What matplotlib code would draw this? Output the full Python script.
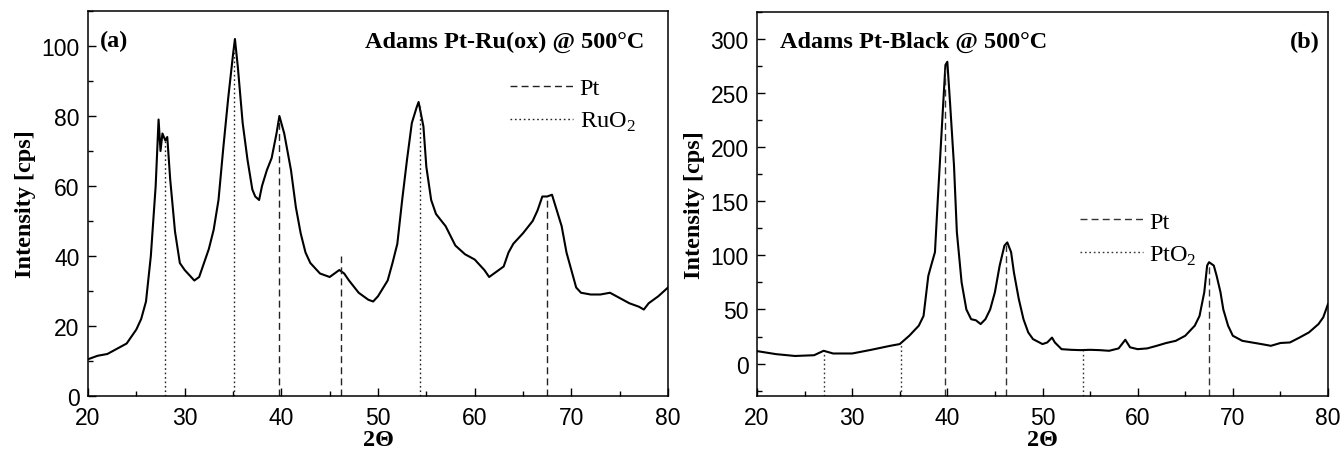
import matplotlib
matplotlib.use("Agg")
import matplotlib.pyplot as plt
from matplotlib.lines import Line2D
from matplotlib.ticker import MultipleLocator

# ---------------- data ----------------
# Panel (a): Adams Pt-Ru(ox) @ 500°C
a_x = [20, 21, 22, 23, 24, 25, 25.5, 26, 26.5, 27, 27.3, 27.5, 27.7, 28, 28.2, 28.5, 29, 29.5,
       30, 30.5, 31, 31.5, 32, 32.5, 33, 33.5, 34, 34.5, 35, 35.2, 35.5, 36, 36.5, 37, 37.3,
       37.7, 38, 38.5, 39, 39.5, 39.8, 40.3, 41, 41.5, 42, 42.5, 43, 44, 45, 46, 46.5, 47, 48,
       49, 49.5, 50, 51, 51.5, 52, 52.5, 53, 53.5, 54, 54.2, 54.7, 55, 55.5, 56, 57, 58, 59,
       60, 61, 61.5, 62, 63, 63.5, 64, 65, 66, 66.5, 67, 67.5, 68, 68.5, 69, 69.5, 70, 70.5,
       71, 72, 73, 74, 75, 76, 77, 77.5, 78, 79, 80]
a_y = [10.5, 11.5, 12, 13.5, 15, 19, 22, 27, 40, 60, 79, 70, 75, 73, 74, 62, 47, 38,
       36, 34.5, 33, 34, 38, 42, 47.5, 56, 71, 85, 97.5, 102, 94, 78, 67.5, 59, 57,
       56, 60, 64.5, 68, 75, 80, 75, 64.5, 54, 46.5, 41, 38, 35, 34, 36, 35, 33, 29.5,
       27.5, 27, 28.5, 33, 38, 43.5, 56, 67.5, 78, 82.5, 84, 77, 65.5, 56, 52, 48.5, 43, 40.5,
       39, 36, 34, 35, 37, 41, 43.5, 46.5, 50, 53, 57, 57, 57.5, 53, 48.5, 41, 36, 31,
       29.5, 29, 29, 29.5, 28, 26.5, 25.5, 24.7, 26.5, 28.5, 31]

a_pt_pos = [39.8, 46.2, 67.5]
a_pt_h = [79, 40, 57]
a_ruo2_pos = [28.0, 35.1, 54.3]
a_ruo2_h = [73, 100, 83]

# Panel (b): Adams Pt-Black @ 500°C
b_x = [20, 22, 24, 26, 27, 28, 30, 32, 34, 35, 36, 37, 37.5, 38, 38.3, 38.7, 39, 39.5, 39.8,
       40, 40.3, 40.7, 41, 41.5, 42, 42.5, 43, 43.5, 44, 44.5, 45, 45.5, 46, 46.3, 46.7, 47,
       47.5, 48, 48.5, 49, 50, 50.5, 51, 51.3, 52, 53, 54, 55, 56, 57, 58, 58.7, 59.2, 60, 61,
       62, 63, 64, 65, 66, 66.5, 67, 67.3, 67.5, 68, 68.3, 68.7, 69, 69.5, 70, 71, 72, 73, 74,
       75, 76, 77, 78, 79, 79.5, 80]
b_y = [11.5, 8.7, 7, 7.7, 11.8, 9.3, 9.3, 12.7, 16.4, 18, 25.7, 35, 44, 81, 90.6, 103, 152, 230, 276,
       279, 239, 183, 121.6, 75, 50, 41, 40, 36.5, 41, 50, 66, 90.6, 109, 112, 103, 84,
       60, 41, 28.8, 22.6, 18, 19.5, 24, 19.5, 13.3, 12.7, 12.4, 12.7, 12.4, 11.8, 14, 22, 15, 13.3, 14,
       16.4, 19, 21, 25.7, 35, 44, 66, 90.6, 93.7, 90.6, 81, 66, 50, 35, 25.7, 21, 19.5, 18, 16.4,
       19, 19.5, 24, 28.8, 36.5, 42.7, 55]

b_pt_pos = [39.8, 46.2, 67.5]
b_pt_h = [272, 110, 92]
b_pto2_pos = [27.0, 35.1, 54.3]
b_pto2_h = [10, 17, 12]

# ---------------- figure ----------------
plt.rcParams['font.family'] = ['Liberation Sans', 'DejaVu Sans']
serif = ['Liberation Serif', 'DejaVu Serif']
TXT = 17.5

fig = plt.figure(figsize=(13.42, 4.52), dpi=100)
ax1 = fig.add_axes([88 / 1342, 55 / 452, 580 / 1342, 385 / 452])
ax2 = fig.add_axes([757 / 1342, 55 / 452, 571 / 1342, 384 / 452])


def style(ax, ymaj, ymin):
    ax.set_xlim(20, 80)
    ax.xaxis.set_major_locator(MultipleLocator(10))
    ax.xaxis.set_minor_locator(MultipleLocator(5))
    ax.yaxis.set_major_locator(MultipleLocator(ymaj))
    ax.yaxis.set_minor_locator(MultipleLocator(ymin))
    ax.tick_params(which='both', direction='in', top=False, right=False, labelsize=16.5)
    ax.tick_params(which='major', length=6, width=1)
    ax.tick_params(which='minor', length=3.5, width=1)
    ax.tick_params(axis='x', pad=7)
    ax.tick_params(axis='y', pad=6)
    for s in ax.spines.values():
        s.set_linewidth(1.1)
    ax.set_xlabel('2Θ', fontsize=TXT, fontweight='bold', family=serif, labelpad=0)
    ax.set_ylabel('Intensity [cps]', fontsize=TXT, fontweight='bold', family=serif, labelpad=4)


LEG = dict(frameon=False, handlelength=2.6, handletextpad=0.25, labelspacing=0.45,
           borderaxespad=0, borderpad=0, prop={'family': serif, 'size': TXT})

# panel (a)
ax1.plot(a_x, a_y, color='black', lw=1.5)
ax1.vlines(a_pt_pos, 0, a_pt_h, colors='#222222', linestyles=(0, (5, 3)), lw=1.0)
ax1.vlines(a_ruo2_pos, 0, a_ruo2_h, colors='#222222', linestyles=(0, (1.2, 2)), lw=1.0)
ax1.set_ylim(0, 110)
style(ax1, 20, 10)
ax1.text(0.02, 0.95, '(a)', transform=ax1.transAxes, fontsize=TXT, fontweight='bold',
         family=serif, va='top', ha='left')
ax1.text(0.96, 0.95, 'Adams Pt-Ru(ox) @ 500°C', transform=ax1.transAxes, fontsize=TXT,
         fontweight='bold', family=serif, va='top', ha='right')
h1 = [Line2D([], [], color='#222222', ls=(0, (5, 3)), lw=1.0),
      Line2D([], [], color='#222222', ls=(0, (1.2, 2)), lw=1.0)]
ax1.legend(h1, ['Pt', r'RuO$_\mathregular{2}$'], loc='upper left',
           bbox_to_anchor=(0.728, 0.828), **LEG)

# panel (b)
ax2.plot(b_x, b_y, color='black', lw=1.5)
ax2.vlines(b_pt_pos, -30, b_pt_h, colors='#333333', linestyles=(0, (5, 3)), lw=1.0)
ax2.vlines(b_pto2_pos, -30, b_pto2_h, colors='#333333', linestyles=(0, (1.2, 2)), lw=1.0)
ax2.set_ylim(-30, 325)
style(ax2, 50, 25)
ax2.text(0.04, 0.95, 'Adams Pt-Black @ 500°C', transform=ax2.transAxes, fontsize=TXT,
         fontweight='bold', family=serif, va='top', ha='left')
ax2.text(0.985, 0.95, '(b)', transform=ax2.transAxes, fontsize=TXT, fontweight='bold',
         family=serif, va='top', ha='right')
h2 = [Line2D([], [], color='#333333', ls=(0, (5, 3)), lw=1.0),
      Line2D([], [], color='#333333', ls=(0, (1.2, 2)), lw=1.0)]
ax2.legend(h2, ['Pt', r'PtO$_\mathregular{2}$'], loc='upper left',
           bbox_to_anchor=(0.566, 0.482), **LEG)

fig.savefig('out.png', dpi=100)
